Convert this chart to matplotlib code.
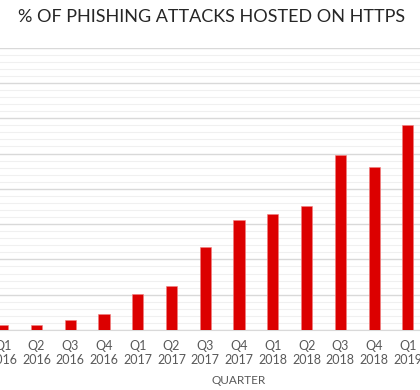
import matplotlib.pyplot as plt
from matplotlib.ticker import MultipleLocator

# datos
trimestres = ['Q1\n2016', 'Q2\n2016', 'Q3\n2016', 'Q4\n2016',
              'Q1\n2017', 'Q2\n2017', 'Q3\n2017', 'Q4\n2017',
              'Q1\n2018', 'Q2\n2018', 'Q3\n2018', 'Q4\n2018',
              'Q1\n2019']
porcentajes = [1.5, 1.5, 2.7, 4.5, 10.2, 12.5, 23.4, 31.2, 33.0, 35.1, 49.5, 46.3, 58.0]

plt.rcParams['font.family'] = ['Lato', 'DejaVu Sans']

fig = plt.figure(figsize=(4.2, 3.9), dpi=100)
W, H = 420, 390
# el area de trazado queda recortada por los lados, como en la imagen
ax = fig.add_axes([-14.2 / W, 60 / H, 439 / W, 282.4 / H])

x = range(len(trimestres))
ax.bar(x, porcentajes, width=0.33, color='#DC0000', edgecolor='#F08080', linewidth=0.4, zorder=3)

ax.set_xlim(-0.5, len(trimestres) - 0.5)
ax.set_ylim(0, 80)
ax.yaxis.set_major_locator(MultipleLocator(10))
ax.yaxis.set_minor_locator(MultipleLocator(2))
ax.grid(axis='y', which='major', color='#D9D9D9', linewidth=1.0, zorder=0)
ax.grid(axis='y', which='minor', color='#F0F0F0', linewidth=0.8, zorder=0)
ax.tick_params(axis='y', which='both', left=False, labelleft=False)

ax.set_xticks(list(x))
ax.set_xticklabels(trimestres, fontsize=9, color='#595959', linespacing=1.2)
ax.tick_params(axis='x', length=0, pad=7)

for lado in ['top', 'right', 'left']:
    ax.spines[lado].set_visible(False)
ax.spines['bottom'].set_color('#D9D9D9')

fig.text(212 / W, 1 - 17.5 / H, '% OF PHISHING ATTACKS HOSTED ON HTTPS',
         ha='center', va='center', fontsize=13, color='#262626')
fig.text(239 / W, 1 - 381 / H, 'QUARTER', ha='center', va='center',
         fontsize=8.5, color='#595959')

fig.savefig('out.png', dpi=100)
